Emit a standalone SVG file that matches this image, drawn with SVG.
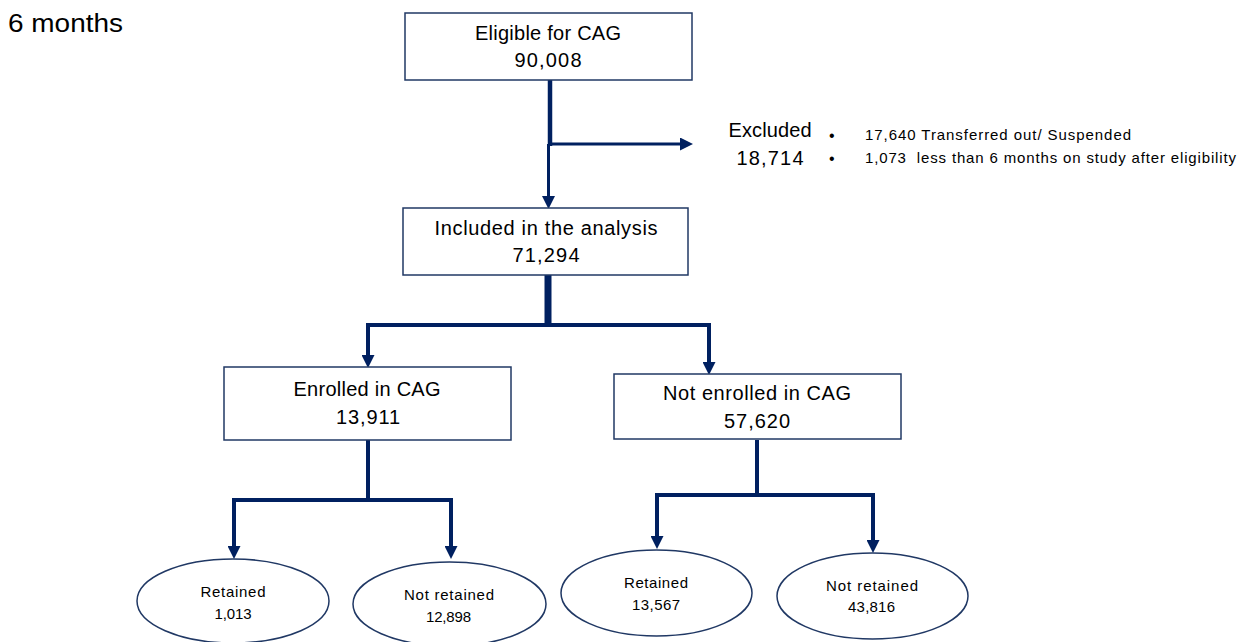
<svg xmlns="http://www.w3.org/2000/svg" width="1247" height="642" viewBox="0 0 1247 642">
<style>
.box{fill:#fff;stroke:#203864;stroke-width:1.5}
.ell{fill:#fff;stroke:#203864;stroke-width:1.5}
.t{font-family:"Liberation Sans",Arial,sans-serif;fill:#000;text-anchor:middle}
.l{font-family:"Liberation Sans",Arial,sans-serif;fill:#000}
.b{font-size:20px}
.s{font-size:15px}
.c{fill:none;stroke:#002060;stroke-linecap:butt;stroke-linejoin:miter}
</style>
<defs>
<marker id="ah" markerUnits="userSpaceOnUse" markerWidth="13" markerHeight="13" refX="6" refY="6.5" orient="auto">
<path d="M0,0 L13,6.5 L0,13 z" fill="#002060"/>
</marker>
</defs>
<rect width="1247" height="642" fill="#fff"/>
<text class="l" x="8" y="32" font-size="26" textLength="115" lengthAdjust="spacingAndGlyphs">6 months</text>

<g id="connectors">
<path class="c" d="M550,80 V146" stroke-width="4.5"/>
<path class="c" d="M548.5,144 V202" stroke-width="3" marker-end="url(#ah)"/>
<path class="c" d="M548,144 H686" stroke-width="3" marker-end="url(#ah)"/>
<path class="c" d="M548,275 V327" stroke-width="7"/>
<path class="c" d="M368,361 V325 H709 V368" stroke-width="4" marker-end="url(#ah)"/>
<path class="c" d="M368,327 V361" stroke-width="4" marker-end="url(#ah)"/>
<path class="c" d="M368,440 V500" stroke-width="4"/>
<path class="c" d="M234,552 V500 H451 V552" stroke-width="4" marker-end="url(#ah)"/>
<path class="c" d="M234,502 V552" stroke-width="4" marker-end="url(#ah)"/>
<path class="c" d="M757,440 V495" stroke-width="4"/>
<path class="c" d="M657,542 V495 H873 V546" stroke-width="4" marker-end="url(#ah)"/>
<path class="c" d="M657,497 V542" stroke-width="4" marker-end="url(#ah)"/>
</g>

<g id="eligible">
<rect class="box" x="405" y="13" width="287" height="67"/>
<text class="t b" x="548" y="40" textLength="146">Eligible for CAG</text>
<text class="t b" x="548" y="67" textLength="67">90,008</text>
</g>

<g id="excluded">
<text class="t" x="770" y="137" font-size="20" textLength="83">Excluded</text>
<text class="t" x="770" y="165" font-size="20" textLength="67">18,714</text>
<text class="l" x="829" y="141" font-size="16">•</text>
<text class="l" x="829" y="164" font-size="16">•</text>
<text class="l" x="865" y="140" font-size="15" textLength="266">17,640 Transferred out/ Suspended</text>
<text class="l" x="865" y="163" font-size="15" textLength="371" xml:space="preserve">1,073  less than 6 months on study after eligibility</text>
</g>

<g id="included">
<rect class="box" x="403" y="208" width="285" height="67"/>
<text class="t b" x="546" y="235" textLength="223">Included in the analysis</text>
<text class="t b" x="546" y="262" textLength="67">71,294</text>
</g>

<g id="enrolled">
<rect class="box" x="224" y="367" width="287" height="73"/>
<text class="t b" x="367" y="396" textLength="147">Enrolled in CAG</text>
<text class="t b" x="368" y="424" textLength="64">13,911</text>
</g>

<g id="not-enrolled">
<rect class="box" x="614" y="374" width="287" height="65"/>
<text class="t b" x="757" y="400" textLength="188">Not enrolled in CAG</text>
<text class="t b" x="757" y="428" textLength="66">57,620</text>
</g>

<g id="retained-1">
<ellipse class="ell" cx="233" cy="601" rx="96" ry="42"/>
<text class="t s" x="233" y="597" textLength="65">Retained</text>
<text class="t s" x="233" y="619" textLength="37">1,013</text>
</g>

<g id="not-retained-1">
<ellipse class="ell" cx="449.5" cy="604" rx="96.5" ry="42"/>
<text class="t s" x="449" y="600" textLength="90">Not retained</text>
<text class="t s" x="448.5" y="622" textLength="45">12,898</text>
</g>

<g id="retained-2">
<ellipse class="ell" cx="656.5" cy="593" rx="95.5" ry="43"/>
<text class="t s" x="656" y="588" textLength="64">Retained</text>
<text class="t s" x="656" y="610" textLength="48">13,567</text>
</g>

<g id="not-retained-2">
<ellipse class="ell" cx="872.5" cy="596" rx="95.5" ry="43"/>
<text class="t s" x="872" y="591" textLength="92">Not retained</text>
<text class="t s" x="871.5" y="612" textLength="47">43,816</text>
</g>
</svg>
